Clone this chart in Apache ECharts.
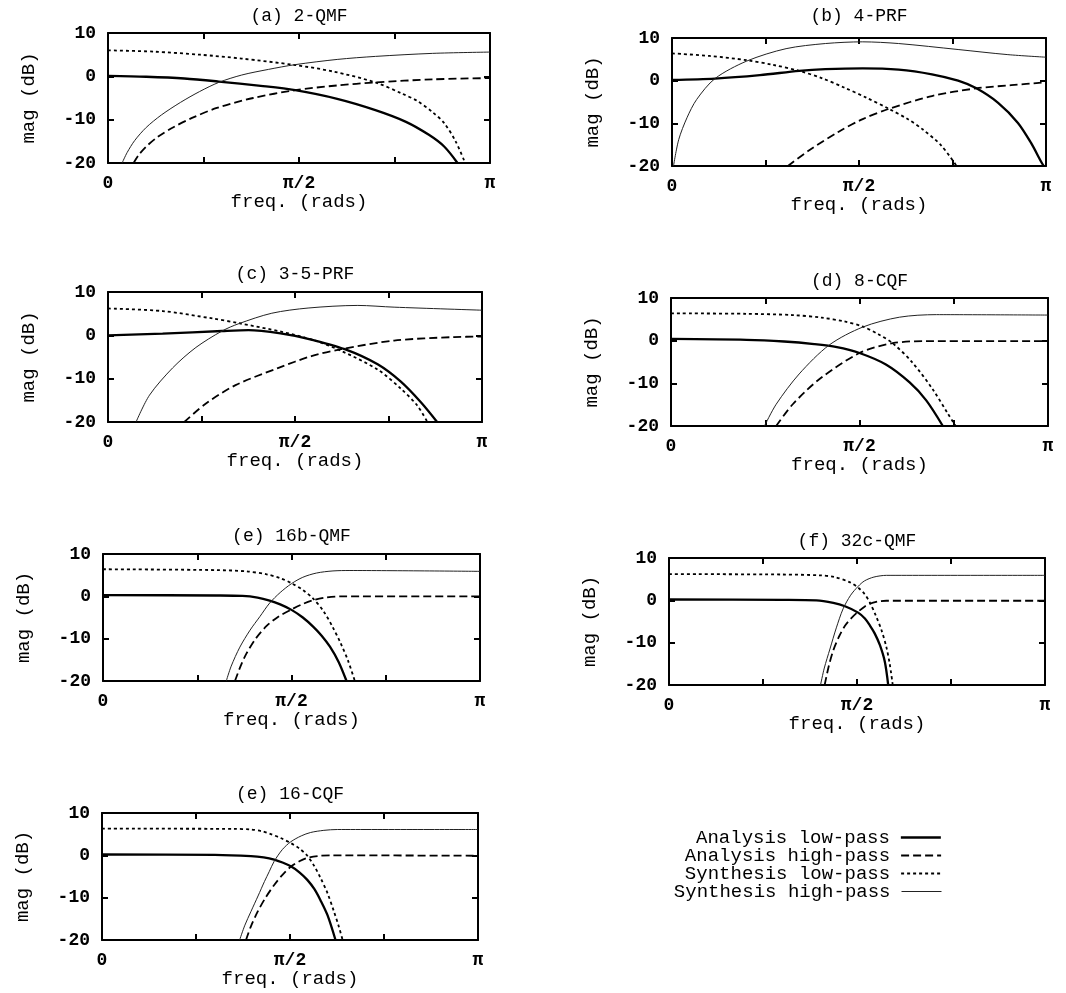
<!DOCTYPE html>
<html>
<head>
<meta charset="utf-8">
<script src="https://cdn.jsdelivr.net/npm/echarts@6/dist/echarts.min.js"></script>
<style>html,body{margin:0;padding:0;background:#fff}#c{width:1066px;height:993px}</style>
</head>
<body>
<div id="c"></div>
<script>
// x values are frequency as a fraction of pi; y values are magnitude in dB
const seriesNames = ['Analysis low-pass', 'Analysis high-pass', 'Synthesis low-pass', 'Synthesis high-pass'];
const panelTitles = ['(a) 2-QMF', '(b) 4-PRF', '(c) 3-5-PRF', '(d) 8-CQF', '(e) 16b-QMF', '(f) 32c-QMF', '(e) 16-CQF'];
const xTickValues = [0, 0.5, 1];
const xTickTexts = ['0', 'π/2', 'π'];
const yTickValues = [-20, -10, 0, 10];

// (a) 2-QMF
const qmf2_aLow  = [[0,0.1],[0.1,-0.1],[0.2,-0.5],[0.29,-1.2],[0.4,-2.2],[0.49,-3.2],[0.6,-5.2],[0.7,-7.8],[0.78,-10.5],[0.84,-13.5],[0.88,-16.2],[0.915,-20]];
const qmf2_aHigh = [[0.067,-20],[0.08,-18.2],[0.1,-16.2],[0.13,-14],[0.17,-11.8],[0.22,-9.6],[0.285,-7.3],[0.38,-5],[0.49,-3.2],[0.6,-2.1],[0.7,-1.4],[0.85,-0.7],[1,-0.4]];
const qmf2_sLow  = [[0,6],[0.12,5.7],[0.24,5],[0.35,4.1],[0.49,2.6],[0.59,1.1],[0.7,-1.4],[0.77,-4],[0.81,-5.7],[0.85,-8.3],[0.88,-10.8],[0.91,-15],[0.935,-20]];
const qmf2_sHigh = [[0.037,-20],[0.05,-17.6],[0.07,-14.8],[0.1,-11.8],[0.14,-8.9],[0.19,-6],[0.24,-3.5],[0.29,-1.4],[0.35,0.3],[0.42,1.6],[0.49,2.7],[0.6,3.9],[0.7,4.6],[0.85,5.3],[1,5.6]];

// (b) 4-PRF
const prf4_aLow  = [[0,0.2],[0.115,0.5],[0.235,1.3],[0.34,2.3],[0.41,2.7],[0.51,2.9],[0.606,2.6],[0.695,1.5],[0.765,0],[0.814,-1.8],[0.872,-5.2],[0.925,-9.9],[0.96,-14.6],[0.987,-19],[0.994,-20]];
const prf4_aHigh = [[0.31,-20],[0.367,-16.3],[0.447,-11.9],[0.51,-9],[0.58,-6.6],[0.695,-3.6],[0.814,-1.8],[0.907,-1.05],[1,-0.4]];
const prf4_sLow  = [[0,6.4],[0.1,5.8],[0.2,4.8],[0.27,3.7],[0.34,2.3],[0.4,0.6],[0.46,-1.6],[0.52,-4],[0.58,-6.6],[0.63,-9],[0.67,-11.4],[0.72,-15.2],[0.761,-20]];
const prf4_sHigh = [[0.004,-20],[0.018,-13.8],[0.04,-8.7],[0.066,-4.4],[0.115,0.5],[0.2,4.6],[0.305,7.5],[0.41,8.7],[0.51,9.1],[0.606,8.7],[0.765,7.3],[0.898,6.1],[1,5.5]];

// (c) 3-5-PRF
const prf35_aLow  = [[0,0],[0.146,0.4],[0.305,1],[0.376,1.2],[0.465,0.4],[0.535,-0.8],[0.633,-3.2],[0.721,-6.7],[0.783,-10.7],[0.836,-15.4],[0.88,-20]];
const prf35_aHigh = [[0.204,-20],[0.261,-15.8],[0.341,-11.5],[0.456,-7.5],[0.544,-4.8],[0.624,-3.2],[0.765,-1.2],[0.925,-0.4],[1,-0.3]];
const prf35_sLow  = [[0,6.2],[0.146,5.6],[0.279,3.9],[0.35,2.8],[0.465,0.8],[0.553,-1.2],[0.624,-3.6],[0.721,-7.9],[0.783,-12.3],[0.827,-16.2],[0.854,-20]];
const prf35_sHigh = [[0.075,-20],[0.111,-13.8],[0.173,-7.5],[0.235,-2.8],[0.305,1],[0.35,2.7],[0.438,5.1],[0.535,6.3],[0.668,6.9],[0.765,6.5],[1,5.8]];

// (d) 8-CQF
const cqf8_aLow  = [[0,0.4],[0.2,0.2],[0.3,-0.2],[0.38,-0.8],[0.44,-1.5],[0.5,-2.9],[0.57,-5.6],[0.633,-9.8],[0.677,-14],[0.721,-20]];
const cqf8_aHigh = [[0.279,-20],[0.323,-14.9],[0.394,-9],[0.5,-2.9],[0.588,-0.6],[0.677,-0.1],[1,-0.1]];
const cqf8_sLow  = [[0,6.4],[0.2,6.3],[0.323,6],[0.4,5.4],[0.46,4.5],[0.509,3.3],[0.55,1.5],[0.588,-0.6],[0.641,-5.2],[0.695,-11.5],[0.735,-17.2],[0.755,-20]];
const cqf8_sHigh = [[0.248,-20],[0.279,-14.9],[0.34,-7.8],[0.42,-1],[0.509,3.2],[0.606,5.5],[0.704,6.1],[1,6]];

// (e) 16b-QMF
const qmf16b_aLow  = [[0,0.3],[0.3,0.2],[0.37,0.1],[0.41,-0.3],[0.442,-1],[0.47,-1.9],[0.5,-3.2],[0.53,-5],[0.558,-7.2],[0.58,-9.3],[0.602,-11.9],[0.625,-15.5],[0.646,-20]];
const qmf16b_aHigh = [[0.35,-20],[0.365,-16.5],[0.38,-13.6],[0.405,-10],[0.434,-7],[0.465,-4.8],[0.5,-3.1],[0.53,-1.8],[0.558,-0.9],[0.59,-0.3],[0.63,0],[1,0]];
const qmf16b_sLow  = [[0,6.4],[0.3,6.2],[0.38,5.9],[0.434,5.2],[0.47,4.3],[0.5,3.1],[0.53,1.5],[0.558,-0.6],[0.585,-3.5],[0.61,-7.4],[0.63,-11],[0.65,-15.2],[0.668,-20]];
const qmf16b_sHigh = [[0.327,-20],[0.34,-16.5],[0.363,-12],[0.39,-8],[0.416,-4.8],[0.442,-1.6],[0.47,0.9],[0.5,3],[0.53,4.5],[0.566,5.5],[0.61,6],[0.655,6.1],[1,5.9]];

// (f) 32c-QMF
const qmf32c_aLow  = [[0,0.2],[0.3,0.1],[0.392,0],[0.437,-0.6],[0.468,-1.4],[0.503,-2.9],[0.521,-4.3],[0.534,-5.9],[0.547,-7.8],[0.561,-10.6],[0.574,-14.5],[0.583,-20]];
const qmf32c_aHigh = [[0.414,-20],[0.425,-15.5],[0.437,-11.8],[0.452,-8.6],[0.468,-6],[0.485,-4.2],[0.503,-2.7],[0.52,-1.5],[0.534,-0.8],[0.555,-0.3],[0.578,-0.1],[1,-0.1]];
const qmf32c_sLow  = [[0,6.2],[0.3,6.1],[0.401,5.9],[0.44,5.5],[0.48,4.3],[0.503,3],[0.52,1.5],[0.534,-0.5],[0.55,-3.6],[0.565,-7],[0.578,-11],[0.587,-15],[0.595,-20]];
const qmf32c_sHigh = [[0.403,-20],[0.413,-16],[0.428,-11.5],[0.445,-6.5],[0.463,-2],[0.483,1.2],[0.503,3.3],[0.52,4.6],[0.545,5.5],[0.578,5.9],[1,5.9]];

// (e) 16-CQF
const cqf16_aLow  = [[0,0.2],[0.3,0.1],[0.396,-0.2],[0.43,-0.5],[0.458,-1],[0.48,-1.7],[0.502,-2.6],[0.525,-4],[0.546,-5.8],[0.565,-8],[0.581,-10.6],[0.6,-14.2],[0.621,-20]];
const cqf16_aHigh = [[0.383,-20],[0.395,-17],[0.414,-13.3],[0.435,-10],[0.458,-7],[0.48,-4.6],[0.502,-2.7],[0.525,-1.4],[0.546,-0.6],[0.575,-0.15],[0.61,0],[1,-0.1]];
const cqf16_sLow  = [[0,6.3],[0.35,6.25],[0.396,6.1],[0.425,5.7],[0.449,5],[0.475,4.1],[0.502,2.9],[0.525,1.6],[0.546,-0.1],[0.565,-2.6],[0.581,-5.3],[0.6,-9],[0.617,-13.3],[0.629,-16.6],[0.64,-20]];
const cqf16_sHigh = [[0.366,-20],[0.38,-16.5],[0.396,-13.3],[0.415,-9.6],[0.432,-6.2],[0.445,-3.8],[0.458,-1.4],[0.48,1.4],[0.502,3.2],[0.53,4.6],[0.555,5.4],[0.59,5.9],[0.626,6.1],[1,6.1]];

const panelData = [
  [qmf2_aLow, qmf2_aHigh, qmf2_sLow, qmf2_sHigh],
  [prf4_aLow, prf4_aHigh, prf4_sLow, prf4_sHigh],
  [prf35_aLow, prf35_aHigh, prf35_sLow, prf35_sHigh],
  [cqf8_aLow, cqf8_aHigh, cqf8_sLow, cqf8_sHigh],
  [qmf16b_aLow, qmf16b_aHigh, qmf16b_sLow, qmf16b_sHigh],
  [qmf32c_aLow, qmf32c_aHigh, qmf32c_sLow, qmf32c_sHigh],
  [cqf16_aLow, cqf16_aHigh, cqf16_sLow, cqf16_sHigh]
];

// layout
const FONT = "'Liberation Mono','DejaVu Sans Mono','Courier New',monospace";
const gridBoxes = [
  {left:108, top:33, width:382, height:130},
  {left:672, top:38, width:374, height:128},
  {left:108, top:292, width:374, height:130},
  {left:671, top:298, width:377, height:128},
  {left:103, top:554, width:377, height:127},
  {left:669, top:558, width:376, height:127},
  {left:102, top:813, width:376, height:127}
];
const titleCenterY = [17, 17, 275, 282, 537, 542, 795];
const lineStyles = [
  {color:'#000', width:2.3, type:'solid'},
  {color:'#000', width:1.8, type:[8,4]},
  {color:'#000', width:1.8, type:[3,3]},
  {color:'#222', width:1.0, type:'solid'}
];
const legendRowY = [838, 856, 874, 892];

const grid = [], xAxis = [], yAxis = [], series = [], title = [];
const axisLine = {show:true, onZero:false, lineStyle:{color:'#000', width:2}};
const axisTick = {show:true, inside:true, length:6, lineStyle:{color:'#000', width:2}};
gridBoxes.forEach((g, i) => {
  grid.push(Object.assign({containLabel:false}, g));
  title.push({
    text: panelTitles[i], left: g.left + g.width/2, top: titleCenterY[i] - 10, textAlign:'center',
    padding:0, textStyle:{fontFamily:FONT, fontSize:18, fontWeight:'normal', color:'#000'}
  });
  xAxis.push({
    type:'value', gridIndex:i, min:0, max:1, interval:0.25, position:'bottom',
    axisLine, axisTick, splitLine:{show:false},
    name:'freq. (rads)', nameLocation:'middle', nameGap:28,
    nameTextStyle:{fontFamily:FONT, fontSize:19, color:'#000', verticalAlign:'top'},
    axisLabel:{
      show:true, margin:11, showMinLabel:true, showMaxLabel:true,
      fontFamily:FONT, fontSize:18, fontWeight:'bold', color:'#000',
      formatter: v => { const k = xTickValues.findIndex(t => Math.abs(t - v) < 1e-6); return k >= 0 ? xTickTexts[k] : ''; }
    }
  });
  xAxis.push({
    type:'value', gridIndex:i, min:0, max:1, interval:0.25, position:'top',
    axisLine, axisTick, splitLine:{show:false}, axisLabel:{show:false}
  });
  yAxis.push({
    type:'value', gridIndex:i, min:yTickValues[0], max:yTickValues[yTickValues.length-1], interval:10, position:'left',
    axisLine, axisTick, splitLine:{show:false},
    name:'mag (dB)', nameLocation:'middle', nameGap:70, nameRotate:90,
    nameTextStyle:{fontFamily:FONT, fontSize:19, color:'#000'},
    axisLabel:{show:true, margin:12, fontFamily:FONT, fontSize:18, fontWeight:'bold', color:'#000'}
  });
  yAxis.push({
    type:'value', gridIndex:i, min:yTickValues[0], max:yTickValues[yTickValues.length-1], interval:10, position:'right',
    axisLine, axisTick, splitLine:{show:false}, axisLabel:{show:false}
  });
  panelData[i].forEach((d, s) => {
    series.push({
      type:'line', name:seriesNames[s], xAxisIndex:2*i, yAxisIndex:2*i,
      data:d, symbol:'none', smooth:0.3, clip:true, silent:true,
      lineStyle:lineStyles[s], itemStyle:{color:'#000'}, z:3
    });
  });
});

const legend = seriesNames.map((n, k) => ({
  data:[n], right:124, top:legendRowY[k] - 10, orient:'horizontal', align:'right',
  itemWidth:40, itemHeight:10, padding:0, selectedMode:false,
  itemStyle:{opacity:0, borderWidth:0},
  lineStyle:Object.assign({}, lineStyles[k]),
  textStyle:{fontFamily:FONT, fontSize:19, color:'#000', padding:[0,6,0,0]}
}));

const chart = echarts.init(document.getElementById('c'), null, {renderer:'canvas'});
chart.setOption({
  backgroundColor:'#fff', animation:false,
  title, grid, xAxis, yAxis, series, legend
});
</script>
</body>
</html>
